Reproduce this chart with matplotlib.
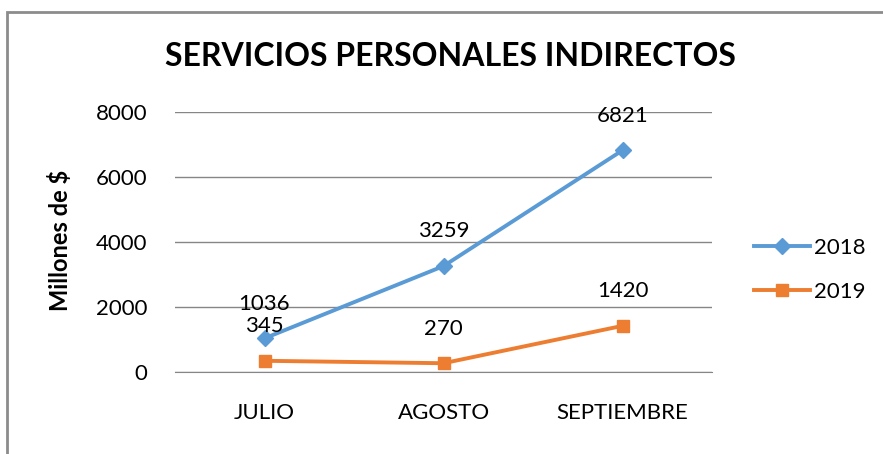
import matplotlib
matplotlib.use("Agg")
import matplotlib.pyplot as plt
from matplotlib.patches import Rectangle
from matplotlib.lines import Line2D

categories = ["JULIO", "AGOSTO", "SEPTIEMBRE"]
s2018 = [1036, 3259, 6821]
s2019 = [345, 270, 1420]
yticks = [0, 2000, 4000, 6000, 8000]

plt.rcParams['font.family'] = ['Lato', 'DejaVu Sans']

W, H = 883, 454
fig = plt.figure(figsize=(W/100, H/100), dpi=100)
ax = fig.add_axes([175/W, 1-372/H, (712-175)/W, (372-112)/H])

blue = "#5B9BD5"
orange = "#ED7D31"
x = list(range(len(categories)))
ax.plot(x, s2018, color=blue, lw=2.8, marker="D", ms=8, label="2018", zorder=3)
ax.plot(x, s2019, color=orange, lw=2.8, marker="s", ms=9, label="2019", zorder=3)

for xi, v in zip(x, s2018):
    ax.annotate(str(v), (xi, v), xytext=(0, 25), textcoords="offset points",
                ha="center", va="center", fontsize=16)
for xi, v in zip(x, s2019):
    ax.annotate(str(v), (xi, v), xytext=(0, 25), textcoords="offset points",
                ha="center", va="center", fontsize=16)

ax.set_xlim(-0.5, 2.5)
ax.set_ylim(0, 8000)
ax.set_yticks(yticks)
ax.set_xticks(x)
ax.set_xticklabels(categories)
ax.tick_params(axis="both", length=0, labelsize=16)
ax.tick_params(axis="y", pad=20)
ax.tick_params(axis="x", pad=22)
ax.grid(axis="y", color="#868686", lw=1)
ax.set_axisbelow(True)
for sp in ["top", "right", "left"]:
    ax.spines[sp].set_visible(False)
ax.spines["bottom"].set_color("#868686")

fig.text(60/W, 1-240/H, "Millones de $", rotation=90, ha="center", va="center",
         fontsize=17, fontweight="bold")

fig.text((168+733)/2/W, 1-57/H, "SERVICIOS PERSONALES INDIRECTOS", ha="center", va="center",
         fontsize=23, fontweight="bold")

handles = [Line2D([], [], color=blue, lw=2.8, marker="D", ms=8),
           Line2D([], [], color=orange, lw=2.8, marker="s", ms=9)]
fig.legend(handles, ["2018", "2019"], loc="center left", bbox_to_anchor=(734/W, 1-270/H),
           frameon=False, fontsize=16, handlelength=2.5, labelspacing=1.1, handletextpad=0.2)

fig.add_artist(Rectangle((7/W, -0.1), 1.2, 1-12/H+0.1, transform=fig.transFigure,
                         fill=False, edgecolor="#8c8c8c", lw=2))

fig.savefig("out.png", dpi=100)
